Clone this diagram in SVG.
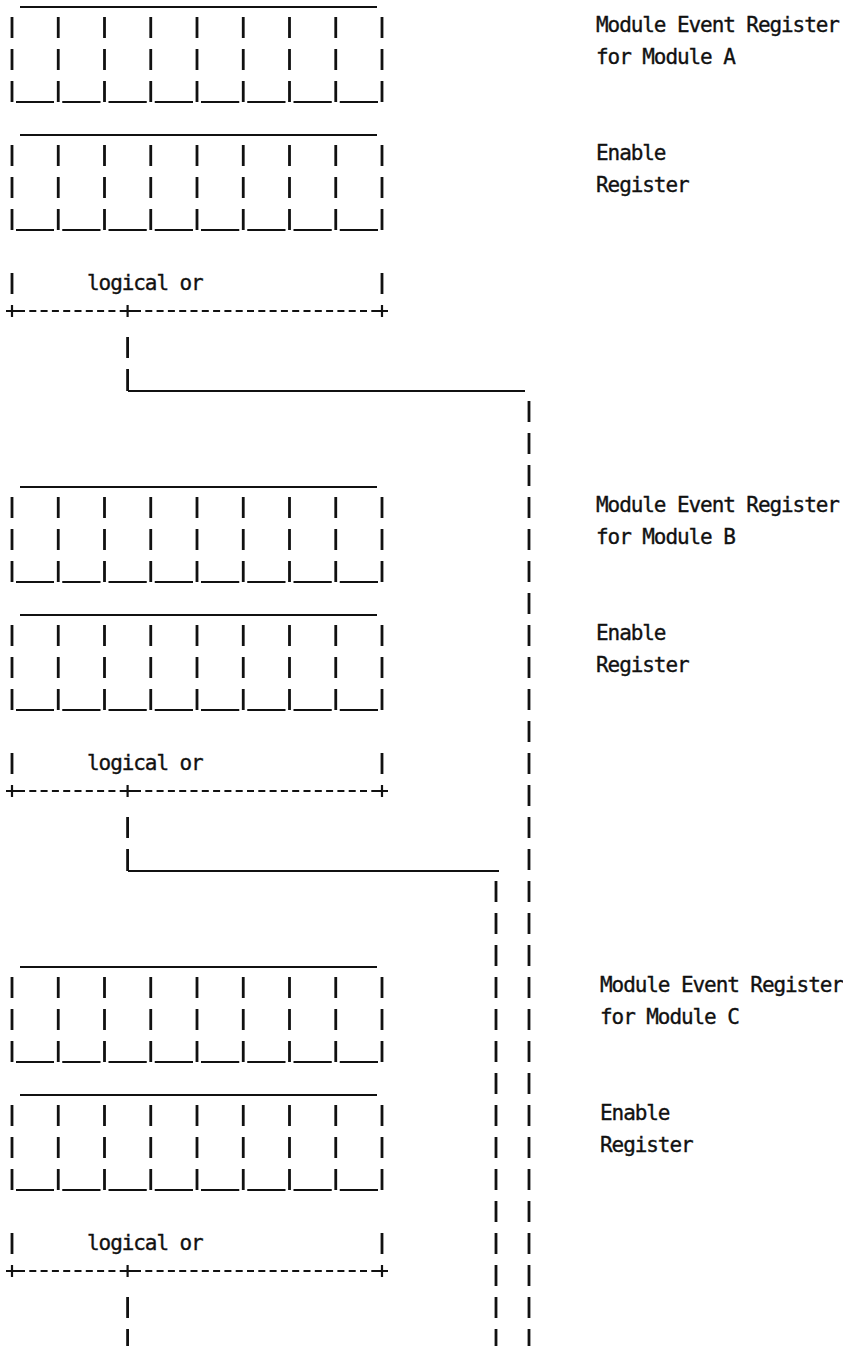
<svg xmlns="http://www.w3.org/2000/svg" xmlns:xlink="http://www.w3.org/1999/xlink" width="843" height="1346" viewBox="0 0 843 1346">
<style>
  .ln{stroke:#111;stroke-width:2.2;fill:none;stroke-linecap:butt}
  .bar{stroke:#111;stroke-width:2.8;fill:none}
  .dash{stroke:#111;stroke-width:2;fill:none;stroke-dasharray:7 4.3}
  .vdash{stroke:#111;stroke-width:2.8;fill:none;stroke-dasharray:21 11}
  text{font-family:"DejaVu Sans Mono","Liberation Mono",monospace;font-size:21px;letter-spacing:-1.08px;fill:#111;stroke:#111;stroke-width:0.35}
</style>
<defs>
  <path id="col" class="bar" d="M0 10V31M0 42V63M0 74V95"/>
  <g id="reg">
    <path class="ln" d="M20 0H377"/>
    <use xlink:href="#col" x="12"/>
    <use xlink:href="#col" x="58.25"/>
    <use xlink:href="#col" x="104.5"/>
    <use xlink:href="#col" x="150.75"/>
    <use xlink:href="#col" x="197"/>
    <use xlink:href="#col" x="243.25"/>
    <use xlink:href="#col" x="289.5"/>
    <use xlink:href="#col" x="335.75"/>
    <use xlink:href="#col" x="382"/>
    <path class="ln" d="M16 95H54M62.25 95H100.5M108.5 95H146.75M154.75 95H193M201 95H239.25M247.25 95H285.5M293.5 95H331.75M339.75 95H378"/>
  </g>
  <g id="or">
    <path class="bar" d="M12 0V21M382 0V21"/>
    <text x="87" y="17">logical or</text>
    <path class="dash" d="M18 38H122M134 38H376"/>
    <path class="ln" d="M6 38H18M122 38H134M376 38H388M12 32V44M127.6 32V44M382 32V44"/>
  </g>
</defs>

<g id="moduleA">
  <use id="eventRegA" xlink:href="#reg" y="7"/>
  <use id="enableRegA" xlink:href="#reg" y="135"/>
  <use id="orA" xlink:href="#or" y="273"/>
  <text x="596" y="32">Module Event Register</text>
  <text x="596" y="64">for Module A</text>
  <text x="596" y="160">Enable</text>
  <text x="596" y="192">Register</text>
</g>

<g id="moduleB">
  <use id="eventRegB" xlink:href="#reg" y="487"/>
  <use id="enableRegB" xlink:href="#reg" y="615"/>
  <use id="orB" xlink:href="#or" y="753"/>
  <text x="596" y="512">Module Event Register</text>
  <text x="596" y="544">for Module B</text>
  <text x="596" y="640">Enable</text>
  <text x="596" y="672">Register</text>
</g>

<g id="moduleC">
  <use id="eventRegC" xlink:href="#reg" y="967"/>
  <use id="enableRegC" xlink:href="#reg" y="1095"/>
  <use id="orC" xlink:href="#or" y="1233"/>
  <text x="600" y="992">Module Event Register</text>
  <text x="600" y="1024">for Module C</text>
  <text x="600" y="1120">Enable</text>
  <text x="600" y="1152">Register</text>
</g>

<g id="connectors">
  <path class="bar" d="M127.6 337V358M127.6 369V391"/>
  <path class="ln" d="M128 391H525"/>
  <path class="vdash" d="M529 401V1346"/>
  <path class="bar" d="M127.6 817V838M127.6 849V871"/>
  <path class="ln" d="M128 871H499"/>
  <path class="vdash" d="M496 881V1346"/>
  <path class="bar" d="M127.6 1297V1318M127.6 1329V1346"/>
</g>
</svg>
